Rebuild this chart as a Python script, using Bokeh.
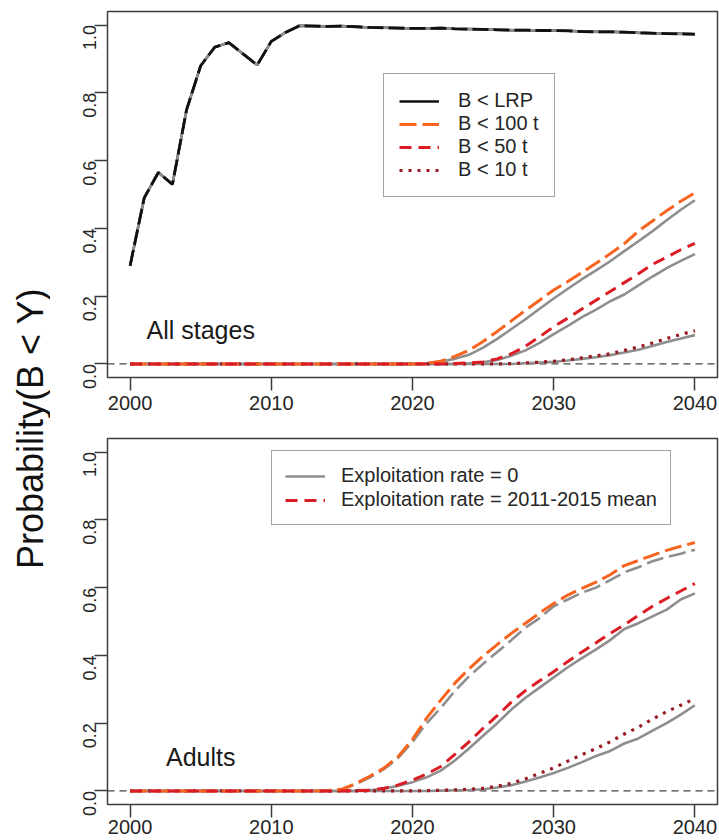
import math

from bokeh.embed import file_html
from bokeh.layouts import column, row
from bokeh.models import FixedTicker, Label, Legend, LegendItem, Range1d, Span
from bokeh.plotting import figure
from bokeh.resources import INLINE

# ---------------------------------------------------------------- data
years = list(range(2000, 2041))

x_ticks = [2000, 2010, 2020, 2030, 2040]
y_ticks = [0.0, 0.2, 0.4, 0.6, 0.8, 1.0]
y_tick_labels = ["0.0", "0.2", "0.4", "0.6", "0.8", "1.0"]

# All stages: probability that biomass falls below each reference level
all_lrp = [0.29, 0.49, 0.565, 0.53, 0.75, 0.88, 0.935, 0.948, 0.915, 0.882,
           0.952, 0.978, 0.998,
           0.997, 0.996, 0.997, 0.995, 0.993, 0.992, 0.991, 0.990, 0.990, 0.991,
           0.989, 0.988, 0.987, 0.986, 0.985, 0.985, 0.984, 0.984, 0.983, 0.981,
           0.980, 0.980, 0.979, 0.977, 0.976, 0.975, 0.974, 0.973]
all_100_mean = [0.0] * 21 + [0.002, 0.008, 0.022, 0.040, 0.066, 0.096, 0.127, 0.158,
                             0.188, 0.218, 0.243, 0.270, 0.297, 0.325, 0.355, 0.392,
                             0.422, 0.452, 0.480, 0.505]
all_100_zero = [0.0] * 21 + [0.002, 0.007, 0.015, 0.027, 0.048, 0.074, 0.103, 0.132,
                             0.163, 0.193, 0.222, 0.250, 0.276, 0.303, 0.333, 0.362,
                             0.392, 0.424, 0.455, 0.483]
all_50_mean = [0.0] * 23 + [0.001, 0.003, 0.006, 0.015, 0.030, 0.052, 0.080, 0.110,
                            0.135, 0.162, 0.188, 0.214, 0.240, 0.266, 0.294, 0.315,
                            0.337, 0.356]
all_50_zero = [0.0] * 24 + [0.002, 0.005, 0.012, 0.024, 0.040, 0.062, 0.088, 0.112,
                            0.138, 0.160, 0.185, 0.205, 0.232, 0.258, 0.283, 0.304,
                            0.324]
all_10_mean = [0.0] * 27 + [0.001, 0.003, 0.005, 0.008, 0.012, 0.018, 0.024, 0.030,
                            0.040, 0.050, 0.062, 0.075, 0.087, 0.098]
all_10_zero = [0.0] * 28 + [0.002, 0.004, 0.006, 0.010, 0.015, 0.020, 0.026, 0.034,
                            0.042, 0.053, 0.065, 0.075, 0.085]

# Adults
ad_100_mean = [0.0] * 14 + [0.001, 0.005, 0.022, 0.044, 0.068, 0.102, 0.152, 0.215,
                            0.268, 0.318, 0.360, 0.398, 0.432, 0.465, 0.495, 0.525,
                            0.553, 0.578, 0.598, 0.616, 0.638, 0.665, 0.680, 0.695,
                            0.710, 0.722, 0.733]
ad_100_zero = [0.0] * 15 + [0.004, 0.020, 0.040, 0.065, 0.098, 0.145, 0.200, 0.245,
                            0.295, 0.338, 0.375, 0.410, 0.445, 0.482, 0.510, 0.545,
                            0.565, 0.585, 0.600, 0.622, 0.645, 0.660, 0.678, 0.690,
                            0.700, 0.712]
ad_50_mean = [0.0] * 16 + [0.001, 0.002, 0.008, 0.018, 0.032, 0.050, 0.072, 0.108,
                           0.145, 0.185, 0.222, 0.262, 0.296, 0.325, 0.352, 0.382,
                           0.410, 0.437, 0.465, 0.490, 0.518, 0.545, 0.568, 0.590,
                           0.612]
ad_50_zero = [0.0] * 17 + [0.002, 0.007, 0.015, 0.026, 0.040, 0.060, 0.090, 0.125,
                           0.163, 0.200, 0.240, 0.275, 0.305, 0.335, 0.365, 0.392,
                           0.418, 0.445, 0.478, 0.495, 0.515, 0.535, 0.565, 0.583]
ad_10_mean = [0.0] * 21 + [0.001, 0.002, 0.003, 0.005, 0.008, 0.014, 0.022, 0.036,
                           0.052, 0.068, 0.088, 0.107, 0.125, 0.145, 0.168, 0.188,
                           0.212, 0.234, 0.253, 0.272]
ad_10_zero = [0.0] * 22 + [0.001, 0.002, 0.003, 0.005, 0.010, 0.017, 0.028, 0.040,
                           0.053, 0.068, 0.085, 0.103, 0.118, 0.140, 0.155, 0.178,
                           0.200, 0.225, 0.253]

# ---------------------------------------------------------------- styles
FONT = "Liberation Sans"
INK = "#262626"
FRAME = "#3c3c3c"
BLACK = "#111111"
ORANGE = "#F8641F"
RED = "#DC1C24"
DARKRED = "#981A24"
GRAY = "#8E8E8E"

DASH_100 = "17 6"
DASH_50 = "12 7"
DOT_10 = "3 6"
DASH_LRP = "16 5"


def make_panel(height, border_top, border_bottom, x_standoff):
    p = figure(width=669, height=height,
               x_range=Range1d(1998.4, 2041.6), y_range=Range1d(-0.04, 1.04),
               output_backend="svg", toolbar_location=None,
               min_border_left=57, min_border_right=2,
               min_border_top=border_top, min_border_bottom=border_bottom)
    p.grid.visible = False
    p.outline_line_color = FRAME
    p.outline_line_width = 1.5
    p.outline_line_alpha = 1.0

    p.xaxis.ticker = FixedTicker(ticks=x_ticks)
    p.yaxis.ticker = FixedTicker(ticks=y_ticks)
    p.yaxis.major_label_overrides = dict(zip(y_ticks, y_tick_labels))
    p.axis.axis_line_color = None
    p.axis.minor_tick_line_color = None
    p.axis.major_tick_in = 0
    p.axis.major_tick_out = 13
    p.axis.major_tick_line_color = FRAME
    p.axis.major_tick_line_width = 1.5
    p.axis.major_label_text_font = FONT
    p.axis.major_label_text_color = INK
    p.xaxis.major_label_text_font_size = "20px"
    p.xaxis.major_label_standoff = x_standoff
    p.yaxis.major_label_text_font_size = "18px"
    p.yaxis.major_label_orientation = math.pi / 2
    p.yaxis.major_label_standoff = 5

    p.add_layout(Span(location=0, dimension="width", line_color="#444444",
                      line_width=1.3, line_dash="7 5", level="underlay"))
    return p


def panel_text(p, text):
    p.add_layout(Label(x=2005, y=0.1, text=text, text_align="center",
                       text_baseline="middle", text_font=FONT,
                       text_font_size="25px", text_color="#1a1a1a"))


def make_legend(items, location, padding, standoff, spacing):
    return Legend(items=items, location=location, orientation="vertical",
                  glyph_width=40, glyph_height=20, label_height=20,
                  label_standoff=standoff, padding=padding, spacing=spacing,
                  margin=0, label_text_font=FONT, label_text_font_size="20px",
                  label_text_color=INK, border_line_color="#4a4a4a",
                  border_line_width=1.5, background_fill_color="white",
                  background_fill_alpha=1.0)


# ---------------------------------------------------------------- all stages
top = make_panel(420, 11, 43, 5)

# solid black run of the limit reference point; it serves as the key sample
# and sits under the grey and dashed copies of the same values
r_lrp = top.line(years, all_lrp, line_color=BLACK, line_width=2.5)

top.line(years, all_lrp, line_color=GRAY, line_width=2.6)
top.line(years, all_100_zero, line_color=GRAY, line_width=2.6)
top.line(years, all_50_zero, line_color=GRAY, line_width=2.6)
top.line(years, all_10_zero, line_color=GRAY, line_width=2.6)

r_10 = top.line(years, all_10_mean, line_color=DARKRED, line_width=3.2,
                line_dash=DOT_10)
r_100 = top.line(years, all_100_mean, line_color=ORANGE, line_width=3.0,
                 line_dash=DASH_100)
r_50 = top.line(years, all_50_mean, line_color=RED, line_width=3.0,
                line_dash=DASH_50)
top.line(years, all_lrp, line_color=BLACK, line_width=2.8, line_dash=DASH_LRP)

panel_text(top, "All stages")
top.add_layout(make_legend(
    [LegendItem(label="B < LRP", renderers=[r_lrp]),
     LegendItem(label="B < 100 t", renderers=[r_100]),
     LegendItem(label="B < 50 t", renderers=[r_50]),
     LegendItem(label="B < 10 t", renderers=[r_10])],
    location=(276, 180), padding=15, standoff=19, spacing=0))

# ---------------------------------------------------------------- adults
bottom = make_panel(420, 18, 36, 2)

bottom.line(years, ad_100_zero, line_color=GRAY, line_width=2.6,
            line_dash=DASH_100)
r_zero = bottom.line(years, ad_50_zero, line_color=GRAY, line_width=2.6)
bottom.line(years, ad_10_zero, line_color=GRAY, line_width=2.6)

bottom.line(years, ad_10_mean, line_color=DARKRED, line_width=3.2,
            line_dash=DOT_10)
bottom.line(years, ad_100_mean, line_color=ORANGE, line_width=3.0,
            line_dash=DASH_100)
r_mean = bottom.line(years, ad_50_mean, line_color=RED, line_width=3.0,
                     line_dash=DASH_50)

panel_text(bottom, "Adults")
bottom.add_layout(make_legend(
    [LegendItem(label="Exploitation rate = 0", renderers=[r_zero]),
     LegendItem(label="Exploitation rate = 2011-2015 mean", renderers=[r_mean])],
    location=(164, 279), padding=13, standoff=16, spacing=1))

# ---------------------------------------------------------------- shared y title
side = figure(width=50, height=840, x_range=Range1d(0, 1), y_range=Range1d(0, 1),
              output_backend="svg", toolbar_location=None, min_border=0)
side.axis.visible = False
side.grid.visible = False
side.outline_line_color = None
side.add_layout(Label(x=30, y=412, x_units="screen", y_units="screen",
                      text="Probability(B < Y)", angle=math.pi / 2,
                      text_align="center", text_baseline="middle",
                      text_font=FONT, text_font_size="36px", text_color="#111111"))

layout = row(side, column(top, bottom))

open("out.html", "w").write(file_html(layout, INLINE))
